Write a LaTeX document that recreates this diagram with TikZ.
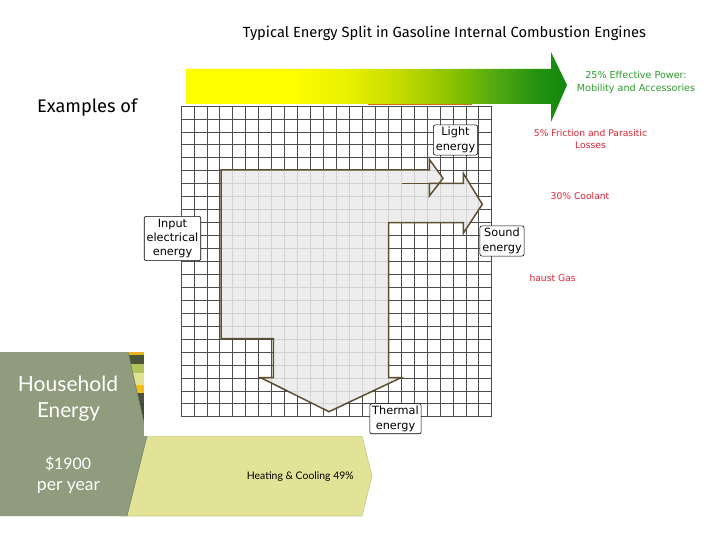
\documentclass[tikz,border=0pt]{standalone}
\usepackage{fontspec}
\setmainfont{DejaVu Sans}
\newfontfamily\labfont{DejaVu Sans}
\newfontfamily\titlefont{Fira Sans}
\newfontfamily\housefont{Lato}
\newfontfamily\exfont{Fira Sans}
\definecolor{gridc}{HTML}{4D4D4D}
\definecolor{flowc}{HTML}{5E4F2F}
\definecolor{fillc}{HTML}{EBEBEB}
\definecolor{houseC}{HTML}{8F9C7D}
\definecolor{houseE}{HTML}{77836A}
\definecolor{heatC}{HTML}{E2E396}
\definecolor{heatB}{HTML}{C9C98A}
\definecolor{greenT}{HTML}{2F9A2F}
\definecolor{redT}{HTML}{DC2434}
\definecolor{gy0}{HTML}{FFFF00}
\definecolor{gy1}{HTML}{E6F000}
\definecolor{gy2}{HTML}{C3DA00}
\definecolor{gy3}{HTML}{8CC300}
\definecolor{gy4}{HTML}{4DA712}
\definecolor{gy5}{HTML}{20900E}
\definecolor{gy6}{HTML}{12880E}
\definecolor{st1}{HTML}{E6B422}
\definecolor{st2}{HTML}{4B5535}
\definecolor{st3}{HTML}{B3C35C}
\definecolor{st4}{HTML}{DFE193}
\definecolor{st5}{HTML}{F2BF1A}
\definecolor{st6}{HTML}{4A5040}
\definecolor{st7}{HTML}{3F4A36}
\definecolor{peek}{HTML}{C8701E}
\pgfdeclarehorizontalshading{engrad}{100bp}{color(0bp)=(gy0); color(25bp)=(gy0); color(38.6bp)=(gy0); color(46.5bp)=(gy1); color(53.1bp)=(gy2); color(59.6bp)=(gy3); color(66.2bp)=(gy4); color(71.5bp)=(gy5); color(75bp)=(gy6); color(100bp)=(gy6)}
\begin{document}
\begin{tikzpicture}[x=1pt,y=-1pt,
  gridln/.style={draw=gridc, line width=0.75pt},
  flowline/.style={draw=flowc, line width=1.5pt, line join=miter},
  lab/.style={draw=black, line width=0.6pt, fill=white, rounded corners=2pt, align=center,
    font=\labfont\fontsize{11.3}{14.4}\selectfont, inner xsep=2.4pt, inner ysep=2.4pt},
  smalltxt/.style={font=\labfont\fontsize{9.2}{12.3}\selectfont, align=center, inner sep=0pt},
  housetxt/.style={text=white, inner sep=0pt}]
\useasboundingbox (0,0) rectangle (720,540);
\fill[white] (0,0) rectangle (720,540);

% title
\node (title) at (444.5,33) {\resizebox{403pt}{!}{\titlefont Typical Energy Split in Gasoline Internal Combustion Engines}};

% text partly hidden behind the grid
\node[anchor=base west, inner sep=0pt] (examples) at (37,112.7) {\resizebox{100pt}{!}{\exfont Examples of}};

% household stripes, bar and block
\fill[st1] (112,352) rectangle (150,355);
\fill[st2] (112,355) rectangle (150,364);
\fill[st3] (112,364) rectangle (150,373);
\fill[st4] (112,373) rectangle (150,385);
\fill[st5] (112,385) rectangle (150,393);
\fill[st6] (112,393) rectangle (150,403);
\fill[st7] (112,403) rectangle (150,436);
\filldraw[fill=heatC, draw=heatB, line width=0.6pt] (120,436) -- (362,436) -- (372,476) -- (362,516) -- (120,516) -- cycle;
\fill[houseC] (0,352) -- (128,352) -- (147,436) -- (127,516) -- (0,516) -- cycle;
\draw[houseE, line width=0.6pt] (128,352) -- (147,436) -- (127,516);
\node[housetxt] (household) at (68,384) {\resizebox{100pt}{!}{\housefont Household}};
\node[housetxt] (energyh) at (68.5,412) {\resizebox{63pt}{!}{\housefont Energy}};
\node[housetxt] (dollars) at (68,464) {\resizebox{46pt}{!}{\housefont \$1900}};
\node[housetxt] (peryear) at (68.5,487) {\resizebox{63pt}{!}{\housefont per year}};
\node[anchor=east, inner sep=0pt] (heating) at (354,476.7) {\resizebox{107pt}{!}{\housefont Heating \& Cooling 49\%}};

% white background of the grid picture
\fill[white] (144,104.5) rectangle (528,435.5);
\draw[peek, line width=1.4pt] (368,104.6) -- (472,104.6);

% gradient arrow
\path[shading=engrad] (186,69) -- (551,69) -- (551,52) -- (567,85) -- (551,122) -- (551,104) -- (186,104) -- cycle;

% green and red texts
\node[smalltxt, text=greenT, font=\labfont\fontsize{9.6}{13}\selectfont] (effective) at (636,82) {25\% Effective Power:\\Mobility and Accessories};
\node[smalltxt, text=redT] (friction) at (590.5,139.2) {5\% Friction and Parasitic\\Losses};
\node[smalltxt, text=redT] (coolant) at (580,195.7) {30\% Coolant};
\node[smalltxt, text=redT, anchor=west] (exhaust) at (529.3,278.3) {haust Gas};

% grid
\foreach \i in {0,...,24}{
  \draw[gridln] ({181+12.95*\i},106) -- ({181+12.95*\i},416.8);
  \draw[gridln] (181,{106+12.95*\i}) -- (491.8,{106+12.95*\i});
}

% energy flow arrow
\coordinate (sep) at (401.7,183.3);
\coordinate (sepend) at (429.3,183.3);
\fill[fillc, fill opacity=0.85] (221,170) -- (429.3,170) -- (429.3,159.3) -- (443,178.3) -- (429.3,196) -- (429.3,183.3)
  -- (463.3,183.3) -- (463.3,173.3) -- (482.3,204.3) -- (463.3,233.3) -- (463.3,222.7) -- (388.5,222.7)
  -- (388.5,377.7) -- (401,377.7) -- (329,411.7) -- (260.7,377.7) -- (273.3,377.7) -- (273.3,338.7) -- (221,338.7) -- cycle;
\draw[flowline] (221,170) -- (429.3,170) -- (429.3,159.3) -- (443,178.3) -- (429.3,196) -- (429.3,183.3)
  -- (463.3,183.3) -- (463.3,173.3) -- (482.3,204.3) -- (463.3,233.3) -- (463.3,222.7) -- (388.5,222.7)
  -- (388.5,377.7) -- (401,377.7) -- (329,411.7) -- (260.7,377.7) -- (273.3,377.7) -- (273.3,338.7) -- (221,338.7) -- cycle;
\draw[flowline] (sep) -- (sepend);

% labels
\node[lab] (light) at (455.5,140) {Light\\energy};
\node[lab] (input) at (172.5,238.5) {Input\\electrical\\energy};
\node[lab] (sound) at (502,241) {Sound\\energy};
\node[lab] (thermal) at (395.5,418.7) {Thermal\\energy};
\end{tikzpicture}
\end{document}
